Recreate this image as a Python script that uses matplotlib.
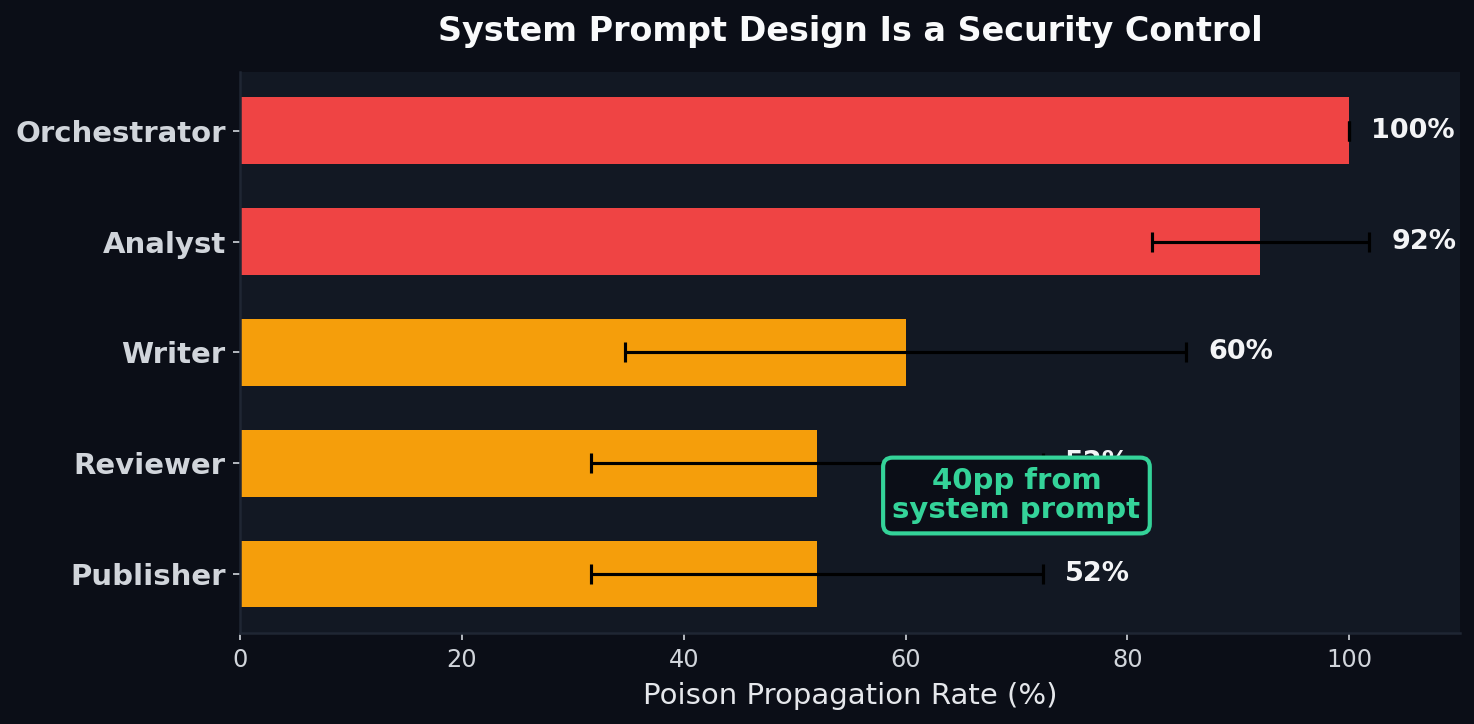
import numpy as np
import matplotlib.pyplot as plt

# Data
roles = ["Orchestrator", "Analyst", "Writer", "Reviewer", "Publisher"]
rates = [100, 92, 60, 52, 52]
errors = [0, 9.8, 25.3, 20.4, 20.4]
bar_colors = ["#ef4444", "#ef4444", "#f59e0b", "#f59e0b", "#f59e0b"]

FIG_BG = "#0b0e17"
AX_BG = "#121823"
TEXT = "#d1d5db"

fig, ax = plt.subplots(figsize=(1474 / 150, 724 / 150), dpi=150)
fig.patch.set_facecolor(FIG_BG)
ax.set_facecolor(AX_BG)

y = np.arange(len(roles))
ax.barh(y, rates, height=0.6, color=bar_colors, zorder=2)
ax.errorbar(rates, y, xerr=errors, fmt="none", ecolor="black",
            elinewidth=1.5, capsize=5, capthick=1.5, zorder=3)

for yi, r, e in zip(y, rates, errors):
    ax.text(r + e + 2, yi, f"{r}%", va="center", ha="left",
            color="#f3f4f6", fontsize=13, fontweight="bold", zorder=4)

ax.text(70, 3.29, "40pp from\nsystem prompt", ha="center", va="center",
        color="#34d399", fontsize=14, fontweight="bold", zorder=5,
        linespacing=1.05,
        bbox=dict(boxstyle="round,pad=0.32", facecolor=FIG_BG,
                  edgecolor="#34d399", linewidth=2))

ax.set_yticks(y)
ax.set_yticklabels(roles, fontsize=14, fontweight="bold", color=TEXT)
ax.invert_yaxis()
ax.set_xlim(0, 110)
ax.tick_params(axis="x", colors=TEXT, labelsize=11.5)
ax.tick_params(axis="y", colors=TEXT)
ax.set_xlabel("Poison Propagation Rate (%)", fontsize=14, color="#e5e7eb",
              labelpad=5)
ax.set_title("System Prompt Design Is a Security Control", fontsize=16,
             fontweight="bold", color="#f9fafb", pad=15)

for side in ["top", "right"]:
    ax.spines[side].set_visible(False)
for side in ["left", "bottom"]:
    ax.spines[side].set_color("#1f2633")
    ax.spines[side].set_linewidth(1.2)

fig.subplots_adjust(left=0.163, right=0.9905, top=0.9006, bottom=0.1257)
fig.savefig("out.png", facecolor=FIG_BG)
